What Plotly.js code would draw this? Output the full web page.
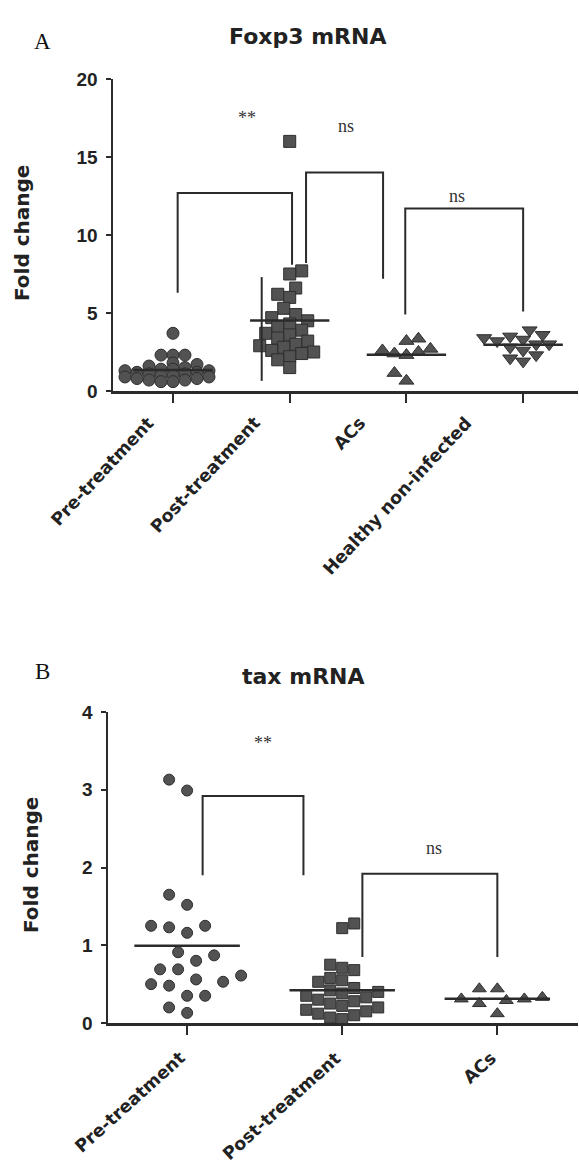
<!DOCTYPE html>
<html>
<head>
<meta charset="utf-8">
<script src="https://cdn.plot.ly/plotly-3.0.1.min.js"></script>
<style>html,body{margin:0;padding:0;background:#fff;}#chart{width:579px;height:1166px;}</style>
</head>
<body>
<div id="chart"></div>
<script>
// ---------- data ----------
const categoriesA = ['Pre-treatment', 'Post-treatment', 'ACs', 'Healthy non-infected'];
const foxp3Pre = [3.7, 2.3, 2.3, 2.3, 1.8, 1.7, 1.6, 1.5, 1.4, 1.4, 1.3, 1.3, 1.2, 1.2, 1.1, 1.1, 1.0, 1.0, 0.9, 0.9, 0.8, 0.8, 0.7, 0.7, 0.6, 0.6];
const foxp3Post = [16, 7.7, 7.5, 6.6, 6.2, 6.0, 5.3, 4.9, 4.7, 4.5, 4.3, 4.1, 3.9, 3.7, 3.6, 3.4, 3.2, 3.0, 2.9, 2.8, 2.6, 2.5, 2.4, 2.2, 2.0, 1.5];
const foxp3ACs = [3.35, 3.2, 2.7, 2.6, 2.5, 2.4, 2.3, 1.15, 0.65];
const foxp3Healthy = [3.9, 3.6, 3.5, 3.4, 3.3, 3.2, 3.0, 3.0, 2.8, 2.6, 2.3, 2.1, 1.9];
const foxp3PostRange = [0.65, 7.3];
const yTicksA = [0, 5, 10, 15, 20];

const categoriesB = ['Pre-treatment', 'Post-treatment', 'ACs'];
const taxPre = [3.13, 2.99, 1.65, 1.52, 1.25, 1.23, 1.25, 1.16, 0.91, 0.87, 0.80, 0.69, 0.69, 0.56, 0.50, 0.48, 0.53, 0.61, 0.35, 0.35, 0.20, 0.13];
const taxPost = [1.28, 1.22, 0.75, 0.71, 0.68, 0.58, 0.55, 0.53, 0.45, 0.42, 0.40, 0.38, 0.35, 0.33, 0.30, 0.28, 0.25, 0.22, 0.20, 0.17, 0.15, 0.12, 0.10, 0.07, 0.05];
const taxACs = [0.44, 0.44, 0.33, 0.31, 0.31, 0.29, 0.25, 0.12];
const yTicksB = [0, 1, 2, 3, 4];

// significance brackets: [from, to, top, leftLegEnd, rightLegEnd, label, labelX, labelY]
const sigA = [
  [0.04, 1.02, 12.7, 6.3, 8.1, '**', 0.63, 17.5],
  [1.14, 1.80, 14.0, 8.2, 7.2, 'ns', 1.48, 17.0],
  [1.99, 3.00, 11.7, 4.9, 5.1, 'ns', 2.43, 12.5]
];
const sigB = [
  [0.10, 0.75, 2.92, 1.9, 1.9, '**', 0.49, 3.6],
  [1.13, 2.00, 1.92, 0.85, 0.85, 'ns', 1.59, 2.25]
];

// ---------- layout geometry ----------
const W = 579, H = 1166;
const domXA = [113 / W, 578 / W], domYA = [1 - 391 / H, 1 - 79 / H];
const rangeXA = [-0.514, 3.47], rangeYA = [0, 20];
const domXB = [108 / W, 578 / W], domYB = [1 - 1023 / H, 1 - 712 / H];
const rangeXB = [-0.51, 2.52], rangeYB = [0, 4];

const pxXA = (domXA[1] - domXA[0]) * W / (rangeXA[1] - rangeXA[0]);
const pxYA = (domYA[1] - domYA[0]) * H / (rangeYA[1] - rangeYA[0]);
const pxXB = (domXB[1] - domXB[0]) * W / (rangeXB[1] - rangeXB[0]);
const pxYB = (domYB[1] - domYB[0]) * H / (rangeYB[1] - rangeYB[0]);

// greedy beeswarm with elliptical collision (ax, ay in px), candidates every stepPx
function swarm(vals, center, pxY, pxX, ax, ay, stepPx) {
  const idx = vals.map((v, i) => i).sort((a, b) => vals[a] - vals[b]);
  const xs = new Array(vals.length);
  const placed = [];
  let flip = 1;
  idx.forEach(k => {
    const y = vals[k] * pxY;
    let x = 0;
    for (let j = 0; j < 80; j++) {
      const m = Math.ceil(j / 2), sgn = (j % 2 === 1 ? 1 : -1) * flip;
      const cand = j === 0 ? 0 : sgn * m * stepPx;
      if (placed.every(p => ((p.x - cand) / ax) ** 2 + ((p.y - y) / ay) ** 2 >= 1)) { x = cand; break; }
    }
    flip = -flip;
    placed.push({x: x, y: y});
    xs[k] = center + x / pxX;
  });
  return xs;
}
const mean = a => a.reduce((s, v) => s + v, 0) / a.length;

const markerFill = '#525252', markerLine = '#2e2e2e', ink = '#2b2b2b';
const traces = [];
function addGroup(vals, center, symbol, size, xa, ya, pxY, pxX, sw) {
  traces.push({
    type: 'scatter', mode: 'markers', xaxis: xa, yaxis: ya,
    x: swarm(vals, center, pxY, pxX, sw[0], sw[1], sw[2]), y: vals,
    marker: {symbol: symbol, size: size, color: markerFill, line: {color: markerLine, width: 1}},
    cliponaxis: false, hoverinfo: 'y', showlegend: false
  });
  const m = mean(vals);
  traces.push({
    type: 'scatter', mode: 'lines', xaxis: xa, yaxis: ya,
    x: [center - 0.34, center + 0.34], y: [m, m],
    line: {color: ink, width: 2.5}, hoverinfo: 'skip', showlegend: false, cliponaxis: false
  });
}
const groupsA = [foxp3Pre, foxp3Post, foxp3ACs, foxp3Healthy];
const symA = ['circle', 'square', 'triangle-up', 'triangle-down'];
const swA = [[12, 6, 6], [12, 10, 6], [12, 10, 6], [13, 10, 6.5]];
groupsA.forEach((g, i) => addGroup(g, i, symA[i], i >= 2 ? 13 : 12, 'x', 'y', pxYA, pxXA, swA[i]));
const groupsB = [taxPre, taxPost, taxACs];
const symB = ['circle', 'square', 'triangle-up'];
const swB = [[17, 17, 9], [12, 12, 6], [14, 14, 9]];
groupsB.forEach((g, i) => addGroup(g, i, symB[i], i == 2 ? 12 : 11, 'x2', 'y2', pxYB, pxXB, swB[i]));

// range line in post-treatment group (panel A)
traces.push({
  type: 'scatter', mode: 'lines', xaxis: 'x', yaxis: 'y',
  x: [0.76, 0.76], y: foxp3PostRange, line: {color: ink, width: 2},
  hoverinfo: 'skip', showlegend: false
});

const shapes = [], annotations = [];
function addSig(list, xr, yr) {
  list.forEach(s => {
    shapes.push({
      type: 'path', xref: xr, yref: yr, layer: 'above',
      path: `M ${s[0]},${s[3]} L ${s[0]},${s[2]} L ${s[1]},${s[2]} L ${s[1]},${s[4]}`,
      line: {color: ink, width: 2}
    });
    annotations.push({
      xref: xr, yref: yr, x: s[6], y: s[7], text: s[5], showarrow: false,
      xanchor: 'center', yanchor: 'middle',
      font: {family: 'Liberation Serif', size: 18, color: '#333'}
    });
  });
}
addSig(sigA, 'x', 'y');
addSig(sigB, 'x2', 'y2');

// rotated category labels (placed as in the reference, slightly left of the ticks in panel A)
const tickFontX = {family: 'DejaVu Sans', size: 17.5, color: '#222', weight: 'bold'};
categoriesA.forEach((c, i) => annotations.push({
  xref: 'x', yref: 'paper', x: i - (12 + 11 * i) / pxXA, y: 1 - 410 / H,
  text: c, textangle: -47, showarrow: false, xanchor: 'right', yanchor: 'top', font: tickFontX
}));
categoriesB.forEach((c, i) => annotations.push({
  xref: 'x2', yref: 'paper', x: i + 5 / pxXB, y: 1 - 1045 / H,
  text: c, textangle: -42, showarrow: false, xanchor: 'right', yanchor: 'top', font: tickFontX
}));

const titleFont = {family: 'DejaVu Sans', size: 22, color: '#222', weight: 'bold'};
const labFont = {family: 'DejaVu Sans', size: 20, color: '#222', weight: 'bold'};
const panelFont = {family: 'Liberation Serif', size: 23, color: '#111'};
const cm = {showarrow: false, xanchor: 'center', yanchor: 'middle', xref: 'paper', yref: 'paper'};
annotations.push(
  Object.assign({x: 42 / W, y: 1 - 41 / H, text: 'A', font: panelFont}, cm),
  Object.assign({x: 307 / W, y: 1 - 37 / H, text: 'Foxp3 mRNA', font: titleFont}, cm),
  Object.assign({x: 22 / W, y: 1 - 233 / H, text: 'Fold change', textangle: -90, font: labFont}, cm),
  Object.assign({x: 42 / W, y: 1 - 671 / H, text: 'B', font: panelFont}, cm),
  Object.assign({x: 303 / W, y: 1 - 676 / H, text: 'tax mRNA', font: titleFont}, cm),
  Object.assign({x: 31 / W, y: 1 - 865 / H, text: 'Fold change', textangle: -90, font: labFont}, cm)
);

const tickFontY = {family: 'Liberation Sans', size: 19, color: '#222', weight: 'bold'};
const xBase = {showline: true, linecolor: ink, linewidth: 2.5, ticks: 'outside', ticklen: 9, tickwidth: 2, tickcolor: ink,
  showgrid: false, zeroline: false, showticklabels: false, fixedrange: true};
const yBase = {showline: true, linecolor: ink, linewidth: 2.5, ticks: 'outside', ticklen: 5, tickwidth: 2, tickcolor: ink,
  showgrid: false, zeroline: false, tickfont: tickFontY, ticklabelstandoff: 4, fixedrange: true};

const layout = {
  width: W, height: H, margin: {l: 0, r: 0, t: 0, b: 0},
  paper_bgcolor: '#fff', plot_bgcolor: '#fff', showlegend: false,
  xaxis: Object.assign({}, xBase, {domain: domXA, range: rangeXA, tickmode: 'array', tickvals: categoriesA.map((c, i) => i), ticktext: categoriesA, anchor: 'y'}),
  yaxis: Object.assign({}, yBase, {domain: domYA, range: rangeYA, tickmode: 'array', tickvals: yTicksA, anchor: 'x'}),
  xaxis2: Object.assign({}, xBase, {domain: domXB, range: rangeXB, tickmode: 'array', tickvals: categoriesB.map((c, i) => i), ticktext: categoriesB, anchor: 'y2'}),
  yaxis2: Object.assign({}, yBase, {domain: domYB, range: rangeYB, tickmode: 'array', tickvals: yTicksB, anchor: 'x2'}),
  shapes: shapes, annotations: annotations
};
Plotly.newPlot('chart', traces, layout, {staticPlot: true});
</script>
</body>
</html>
